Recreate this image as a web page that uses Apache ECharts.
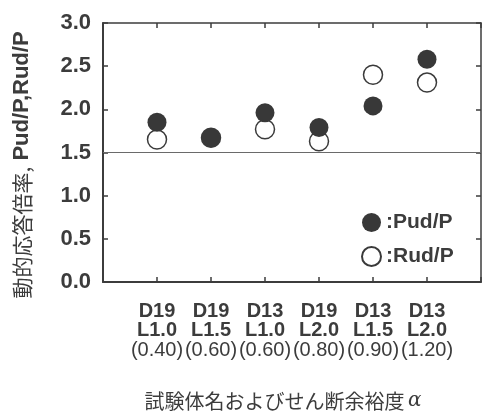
<!DOCTYPE html>
<html>
<head>
<meta charset="utf-8">
<script src="https://cdn.jsdelivr.net/npm/echarts@6/dist/echarts.min.js"></script>
<style>
html,body{margin:0;padding:0;background:#fff;}
#chart{width:484px;height:411px;}
</style>
</head>
<body>
<div id="chart"></div>
<script>
// ---- data ----
var specimens = ['D19', 'D19', 'D13', 'D19', 'D13', 'D13'];
var lengths = ['L1.0', 'L1.5', 'L1.0', 'L2.0', 'L1.5', 'L2.0'];
var alphas = ['(0.40)', '(0.60)', '(0.60)', '(0.80)', '(0.90)', '(1.20)'];
var pudP = [1.85, 1.67, 1.96, 1.79, 2.04, 2.58];
var rudP = [1.65, 1.67, 1.77, 1.63, 2.40, 2.31];
var yTicks = [0, 0.5, 1.0, 1.5, 2.0, 2.5, 3.0];
var refLine = 1.5;
var yName = ['動的応答倍率,', ' Pud/P,Rud/P'];
var xName = ['試験体名およびせん断余裕度', 'α'];
var legendNames = ['Pud/P', 'Rud/P'];

var TXT = '#3c3c3c';
var LAT = '"Liberation Sans", Arial, sans-serif';
var CJK = '"Noto Sans CJK JP", sans-serif';

function pts(arr) { return arr.map(function (v, i) { return [i + 1, v]; }); }

var chart = echarts.init(document.getElementById('chart'), null, { renderer: 'canvas' });

var tickStyle = { show: true, inside: true, length: 5, lineStyle: { color: TXT, width: 1.5 } };

chart.setOption({
  animation: false,
  backgroundColor: '#fff',
  grid: { left: 103, top: 23, width: 384, height: 259, containLabel: false },
  xAxis: [{
    type: 'value', min: 0, max: specimens.length + 1, interval: 1,
    position: 'bottom',
    splitLine: { show: false },
    axisLine: { show: true, onZero: false, lineStyle: { color: TXT, width: 2 } },
    axisTick: tickStyle,
    axisLabel: {
      margin: 20,
      formatter: function (v) {
        var i = v - 1;
        if (i < 0 || i >= specimens.length) return '';
        return '{b|' + specimens[i] + '}\n{b|' + lengths[i] + '}\n{n|' + alphas[i] + '}';
      },
      rich: {
        b: { fontFamily: LAT, fontWeight: 'bold', fontSize: 20, lineHeight: 19, color: TXT },
        n: { fontFamily: LAT, fontWeight: 'normal', fontSize: 20, lineHeight: 21, color: TXT }
      }
    }
  }, {
    type: 'value', min: 0, max: specimens.length + 1, interval: 1,
    position: 'top',
    splitLine: { show: false },
    axisLine: { show: true, onZero: false, lineStyle: { color: TXT, width: 1.5 } },
    axisTick: tickStyle,
    axisLabel: { show: false }
  }],
  yAxis: [{
    type: 'value', min: yTicks[0], max: yTicks[yTicks.length - 1], interval: yTicks[1] - yTicks[0],
    position: 'left',
    splitLine: { show: false },
    axisLine: { show: true, onZero: false, lineStyle: { color: TXT, width: 2 } },
    axisTick: tickStyle,
    axisLabel: {
      margin: 12, color: TXT, fontFamily: LAT, fontWeight: 'bold', fontSize: 22,
      formatter: function (v) { return v.toFixed(1); }
    }
  }, {
    type: 'value', min: yTicks[0], max: yTicks[yTicks.length - 1], interval: yTicks[1] - yTicks[0],
    position: 'right',
    splitLine: { show: false },
    axisLine: { show: true, onZero: false, lineStyle: { color: TXT, width: 1.5 } },
    axisTick: tickStyle,
    axisLabel: { show: false }
  }],
  legend: {
    orient: 'vertical', left: 361, top: 212, padding: 0,
    itemWidth: 19, itemHeight: 19, itemGap: 13,
    data: [legendNames[0], legendNames[1]],
    formatter: function (n) { return ':' + n; },
    textStyle: { fontFamily: LAT, fontWeight: 'bold', fontSize: 21, color: TXT, lineHeight: 20 },
    icon: 'circle'
  },
  series: [{
    name: legendNames[1], type: 'scatter', symbol: 'circle', symbolSize: 19,
    data: pts(rudP), z: 2,
    itemStyle: { color: '#fff', borderColor: '#3a3a3a', borderWidth: 1.5, opacity: 1 },
    markLine: {
      silent: true, symbol: 'none', label: { show: false },
      lineStyle: { color: '#6a6a6a', width: 1, type: 'solid' },
      data: [{ yAxis: refLine }]
    }
  }, {
    name: legendNames[0], type: 'scatter', symbol: 'circle', symbolSize: 19,
    data: pts(pudP), z: 3,
    itemStyle: { color: '#383838', borderColor: '#383838', borderWidth: 0, opacity: 1 }
  }],
  graphic: [{
    type: 'text', x: 22, y: 165, rotation: Math.PI / 2,
    style: {
      text: '{c|' + yName[0] + '}{l|' + yName[1] + '}',
      align: 'center', verticalAlign: 'middle',
      rich: {
        c: { fontFamily: CJK, fontSize: 21, fill: TXT, color: TXT },
        l: { fontFamily: LAT, fontWeight: 'bold', fontSize: 22, fill: TXT, color: TXT }
      }
    }
  }, {
    type: 'text', x: 283, y: 401,
    style: {
      text: '{c|' + xName[0] + '} {a|' + xName[1] + '}', align: 'center', verticalAlign: 'middle',
      rich: {
        c: { fontFamily: CJK, fontSize: 20, fill: TXT, color: TXT },
        a: { fontFamily: '"DejaVu Serif", serif', fontStyle: 'italic', fontSize: 20, fill: TXT, color: TXT }
      }
    }
  }]
});
</script>
</body>
</html>
